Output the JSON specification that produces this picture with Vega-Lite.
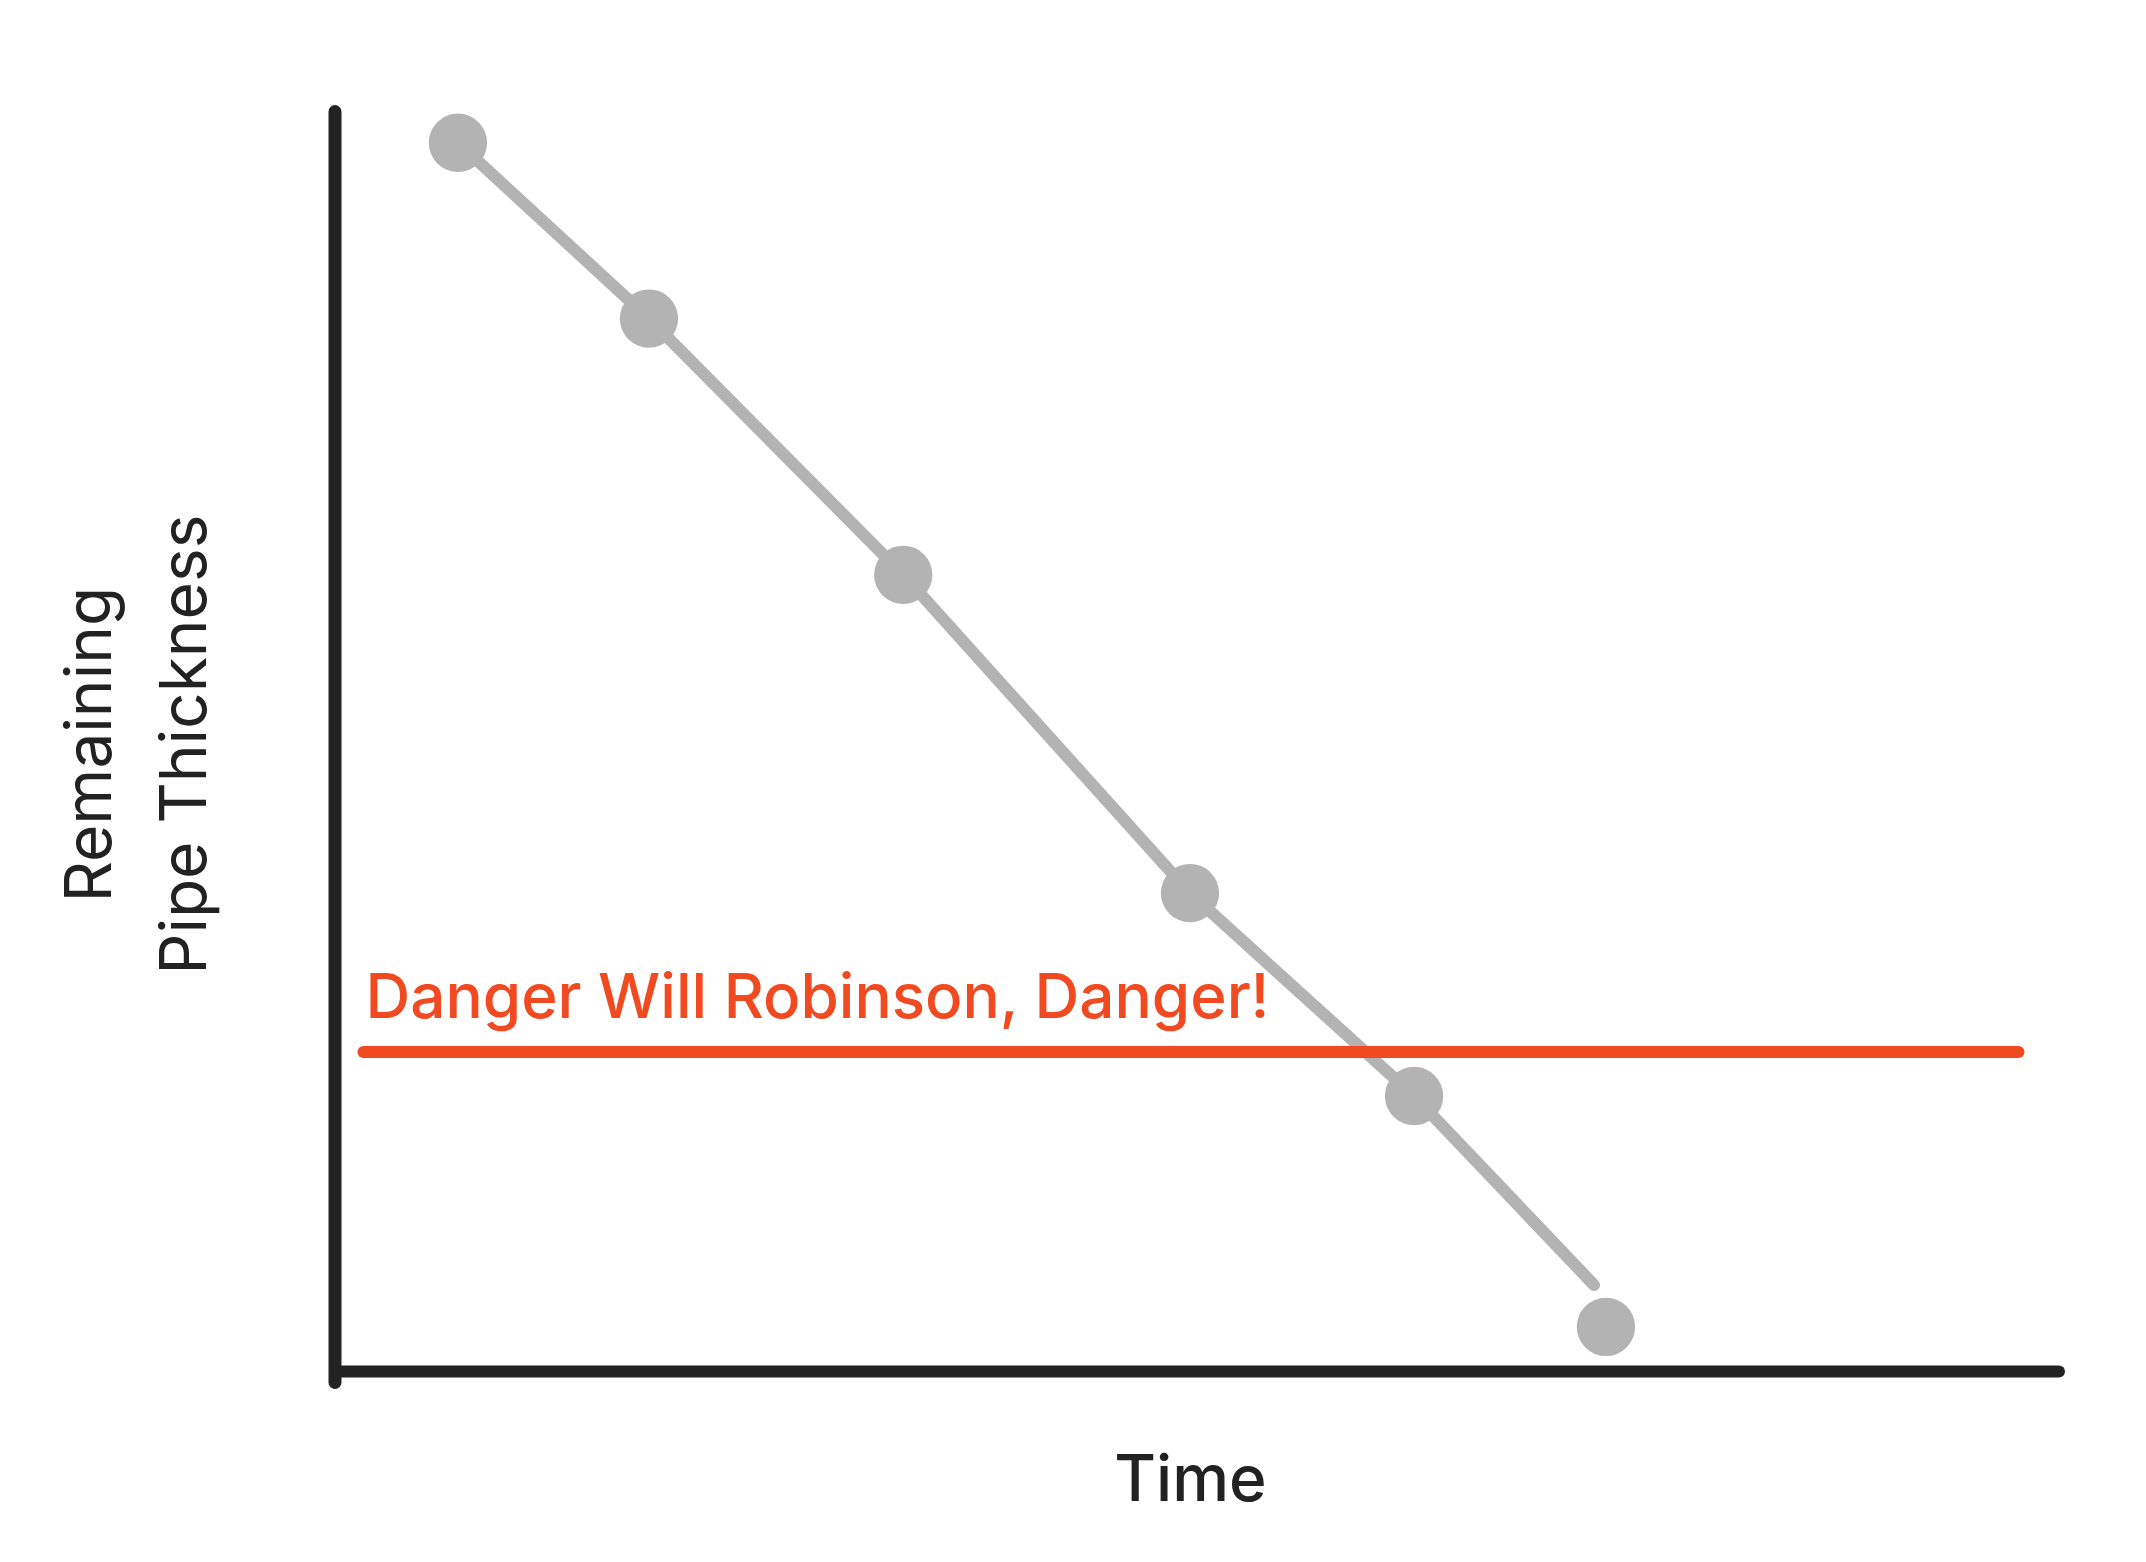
{
  "$schema": "https://vega.github.io/schema/vega-lite/v6.json",
  "autosize": "none",
  "width": 1724,
  "height": 1271,
  "padding": {"left": 334.5, "top": 111, "right": 87.5, "bottom": 180},
  "background": "white",
  "config": {"view": {"stroke": null}, "font": "Inter"},
  "datasets": {
    "trend": [
      {"time": 7.16, "thickness": 97.5},
      {"time": 18.24, "thickness": 83.67},
      {"time": 32.99, "thickness": 63.51},
      {"time": 49.62, "thickness": 38.47},
      {"time": 62.62, "thickness": 22.5},
      {"time": 73.06, "thickness": 7.63}
    ],
    "measurements": [
      {"time": 7.16, "thickness": 97.5},
      {"time": 18.24, "thickness": 83.67},
      {"time": 32.99, "thickness": 63.51},
      {"time": 49.62, "thickness": 38.47},
      {"time": 62.62, "thickness": 22.5},
      {"time": 73.75, "thickness": 4.33}
    ],
    "threshold": [
      {"time": 1.68, "time_end": 97.68, "thickness": 25.96, "label": "Danger Will Robinson, Danger!", "label_time": 1.8, "label_thickness": 28.64}
    ]
  },
  "layer": [
    {
      "data": {"name": "trend"},
      "mark": {"type": "line", "color": "#b3b3b3", "strokeWidth": 12, "strokeCap": "round"},
      "encoding": {
        "x": {
          "field": "time", "type": "quantitative",
          "scale": {"domain": [0, 100], "nice": false, "zero": false},
          "axis": {
            "title": "Time", "labels": false, "ticks": false, "grid": false,
            "domainColor": "#222222", "domainWidth": 12, "domainCap": "round",
            "offset": -11,
            "titleFont": "Inter", "titleFontSize": 64, "titleFontWeight": 500, "titleColor": "#222222",
            "titleX": 855.5, "titleY": 129, "titleAlign": "center", "titleBaseline": "alphabetic"
          }
        },
        "y": {
          "field": "thickness", "type": "quantitative",
          "scale": {"domain": [0, 100], "nice": false, "zero": false},
          "axis": {
            "title": ["Remaining", "Pipe Thickness"], "labels": false, "ticks": false, "grid": false,
            "domainColor": "#222222", "domainWidth": 13, "domainCap": "round",
            "titleFont": "Inter", "titleFontSize": 64, "titleFontWeight": "normal", "titleColor": "#222222",
            "titleX": -224.5, "titleY": 633, "titleAlign": "center", "titleBaseline": "alphabetic",
            "titleAngle": 270, "titleLineHeight": 95
          }
        }
      }
    },
    {
      "data": {"name": "measurements"},
      "mark": {"type": "point", "shape": "circle", "filled": true, "opacity": 1, "color": "#b3b3b3", "size": 3400},
      "encoding": {
        "x": {"field": "time", "type": "quantitative"},
        "y": {"field": "thickness", "type": "quantitative"}
      }
    },
    {
      "data": {"name": "threshold"},
      "mark": {"type": "rule", "color": "#f24a20", "strokeWidth": 12, "strokeCap": "round"},
      "encoding": {
        "x": {"field": "time", "type": "quantitative"},
        "x2": {"field": "time_end"},
        "y": {"field": "thickness", "type": "quantitative"}
      }
    },
    {
      "data": {"name": "threshold"},
      "mark": {"type": "text", "align": "left", "baseline": "alphabetic", "font": "Inter", "fontSize": 62, "fontWeight": 500, "color": "#f24a20"},
      "encoding": {
        "x": {"field": "label_time", "type": "quantitative"},
        "y": {"field": "label_thickness", "type": "quantitative"},
        "text": {"field": "label"}
      }
    }
  ]
}
